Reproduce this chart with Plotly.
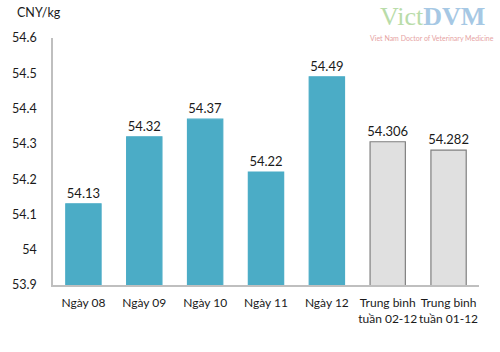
import plotly.graph_objects as go

categories = ["Ngày 08", "Ngày 09", "Ngày 10", "Ngày 11", "Ngày 12",
              "Trung bình<br>tuần 02-12", "Trung bình<br>tuần 01-12"]
values = [54.13, 54.32, 54.37, 54.22, 54.49, 54.306, 54.282]
labels = ["54.13", "54.32", "54.37", "54.22", "54.49", "54.306", "54.282"]
y_ticks = [53.9, 54.0, 54.1, 54.2, 54.3, 54.4, 54.5, 54.6]
y_tick_text = ["53.9", "54", "54.1", "54.2", "54.3", "54.4", "54.5", "54.6"]

fill = ["#4BACC6"] * 5 + ["#E0E0E0"] * 2
edge = ["#4BACC6"] * 5 + ["#7F7F7F"] * 2

font = "Lato, 'Open Sans', sans-serif"
fig = go.Figure(go.Bar(
    x=categories, y=values, text=labels, textposition="outside",
    textfont=dict(size=13, color="#1a1a1a", family=font),
    constraintext="none",
    marker=dict(color=fill, line=dict(color=edge, width=1.2)),
    width=0.58, cliponaxis=False,
))

W, H = 500 - 50 - 21, 352 - 38 - 67
def px(x):
    return (x - 50) / W
def py(y):
    return 1 - (y - 38) / H

fig.update_layout(
    width=500, height=352, margin=dict(l=50, r=21, t=38, b=67),
    paper_bgcolor="white", plot_bgcolor="white", showlegend=False,
    font=dict(family=font, size=12.5, color="#1a1a1a"),
    yaxis=dict(range=[53.9, 54.6], tickvals=y_ticks, ticktext=y_tick_text,
               showgrid=False, showline=True, linecolor="#BFBFBF", linewidth=1.5,
               ticks="", ticklabelstandoff=12, zeroline=False),
    xaxis=dict(showline=True, linecolor="#BFBFBF", linewidth=1.5, ticks="",
               ticklabelstandoff=6, tickangle=0, tickfont=dict(size=12)),
    annotations=[
        dict(text="CNY/kg", x=px(12), y=py(12), xref="paper", yref="paper", showarrow=False,
             xanchor="left", yanchor="middle", font=dict(size=12.5, color="#1a1a1a")),
        dict(text='<span style="color:#B9DCA9">Vict</span><span style="color:#A6C8E4"><b>DVM</b></span>',
             x=px(432), y=py(17), xref="paper", yref="paper", showarrow=False,
             font=dict(size=26, family="Liberation Serif"),
             xanchor="center", yanchor="middle"),
        dict(text="Viet Nam Doctor of Veterinary Medicine", x=px(432), y=py(38),
             xref="paper", yref="paper", showarrow=False,
             font=dict(size=7, color="#E6A3A3"), xanchor="center", yanchor="middle"),
    ],
)
fig.write_html("out.html")
